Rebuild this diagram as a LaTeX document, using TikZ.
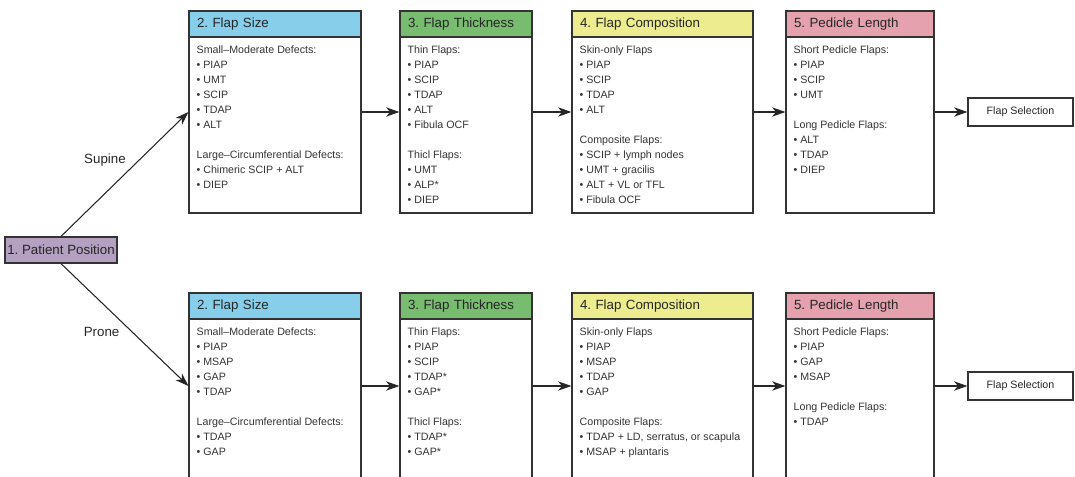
\documentclass[tikz,border=0pt]{standalone}
\usepackage{fontspec}
\setmainfont{Liberation Sans}
\usetikzlibrary{arrows.meta}
\definecolor{sizeblue}{HTML}{87CEEA}
\definecolor{thickgreen}{HTML}{77BC6F}
\definecolor{compyellow}{HTML}{EDED8F}
\definecolor{pedpink}{HTML}{E5A2AE}
\definecolor{pospurple}{HTML}{B4A0C1}
\definecolor{linegray}{HTML}{333333}
\frenchspacing
\newcommand{\bul}{\textbullet\ }
\tikzset{
	frame/.style={draw=linegray, line width=0.9pt, inner sep=0pt},
	head/.style={draw=linegray, line width=0.9pt, fill=#1, anchor=north west, minimum height=19.5pt, inner xsep=6pt, align=left, font=\fontsize{10}{12}\selectfont, text=black!85},
	body/.style={anchor=north west, inner sep=0pt, align=left, font=\fontsize{8}{11.25}\selectfont, text=black!80},
	flow/.style={draw=black!85, line width=0.8pt, -{Stealth[length=10pt, width=7pt, inset=3pt]}},
	lbl/.style={font=\fontsize{10}{12}\selectfont, text=black!85},
}
\begin{document}
\begin{tikzpicture}[x=0.75pt, y=-0.75pt]
	\useasboundingbox (0,0) rectangle (1075,477);
	% the four steps, once per row
	\foreach \r/\y/\h in {A/112/151.5pt, B/386/139.5pt} {
		\foreach \col/\x/\w/\tw/\c/\t in {size/275/129pt/117pt/sizeblue/{2. Flap Size}, thick/466/99pt/87pt/thickgreen/{3. Flap Thickness}, comp/662.5/135.75pt/123.75pt/compyellow/{4. Flap Composition}, ped/860/111pt/99pt/pedpink/{5. Pedicle Length}} {
			\node[frame, minimum width=\w, minimum height=\h] (\col\r) at (\x,\y) {};
			\node[head=\c, text width=\tw] (\col\r head) at (\col\r.north west) {\t};
		}
		\node[frame, minimum width=78.75pt, minimum height=21pt, font=\fontsize{8}{10}\selectfont, text=black!85] (sel\r) at (1020.5,\y) {Flap Selection};
		\foreach \a/\b in {size/thick, thick/comp, comp/ped, ped/sel}
			\draw[flow] (\a\r) -- (\b\r);
	}
	\node[frame, fill=pospurple, minimum width=84pt, minimum height=19.5pt, font=\fontsize{10}{12}\selectfont, text=black!85] (patient) at (61,250) {1. Patient Position};
	\draw[flow] (patient.north) -- node[lbl, pos=0.61, left=6pt] {Supine} (sizeA.west);
	\draw[flow] (patient.south) -- node[lbl, pos=0.56, left=6pt] {Prone} (sizeB.west);
	% supine row
	\node[body] (sizeAtxt) at ([shift={(6pt,-5.7pt)}]sizeAhead.south west) {Small–Moderate Defects:\\ \bul PIAP\\ \bul UMT\\ \bul SCIP\\ \bul TDAP\\ \bul ALT\\[11.25pt] Large–Circumferential Defects:\\ \bul Chimeric SCIP + ALT\\ \bul DIEP};
	\node[body] (thickAtxt) at ([shift={(6pt,-5.7pt)}]thickAhead.south west) {Thin Flaps:\\ \bul PIAP\\ \bul SCIP\\ \bul TDAP\\ \bul ALT\\ \bul Fibula OCF\\[11.25pt] Thicl Flaps:\\ \bul UMT\\ \bul ALP*\\ \bul DIEP};
	\node[body] (compAtxt) at ([shift={(6pt,-5.7pt)}]compAhead.south west) {Skin-only Flaps\\ \bul PIAP\\ \bul SCIP\\ \bul TDAP\\ \bul ALT\\[11.25pt] Composite Flaps:\\ \bul SCIP + lymph nodes\\ \bul UMT + gracilis\\ \bul ALT + VL or TFL\\ \bul Fibula OCF};
	\node[body] (pedAtxt) at ([shift={(6pt,-5.7pt)}]pedAhead.south west) {Short Pedicle Flaps:\\ \bul PIAP\\ \bul SCIP\\ \bul UMT\\[11.25pt] Long Pedicle Flaps:\\ \bul ALT\\ \bul TDAP\\ \bul DIEP};
	% prone row
	\node[body] (sizeBtxt) at ([shift={(6pt,-5.7pt)}]sizeBhead.south west) {Small–Moderate Defects:\\ \bul PIAP\\ \bul MSAP\\ \bul GAP\\ \bul TDAP\\[11.25pt] Large–Circumferential Defects:\\ \bul TDAP\\ \bul GAP};
	\node[body] (thickBtxt) at ([shift={(6pt,-5.7pt)}]thickBhead.south west) {Thin Flaps:\\ \bul PIAP\\ \bul SCIP\\ \bul TDAP*\\ \bul GAP*\\[11.25pt] Thicl Flaps:\\ \bul TDAP*\\ \bul GAP*};
	\node[body] (compBtxt) at ([shift={(6pt,-5.7pt)}]compBhead.south west) {Skin-only Flaps\\ \bul PIAP\\ \bul MSAP\\ \bul TDAP\\ \bul GAP\\[11.25pt] Composite Flaps:\\ \bul TDAP + LD, serratus, or scapula\\ \bul MSAP + plantaris};
	\node[body] (pedBtxt) at ([shift={(6pt,-5.7pt)}]pedBhead.south west) {Short Pedicle Flaps:\\ \bul PIAP\\ \bul GAP\\ \bul MSAP\\[11.25pt] Long Pedicle Flaps:\\ \bul TDAP};
\end{tikzpicture}
\end{document}
